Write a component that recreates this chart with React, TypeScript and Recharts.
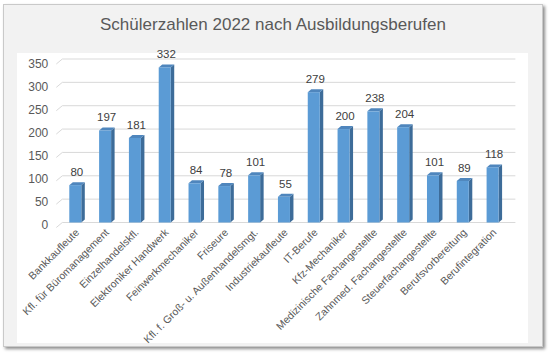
import { BarChart, Bar, XAxis, YAxis, CartesianGrid, LabelList } from "recharts";

const berufe = [
  "Bankkaufleute",
  "Kfl. für Büromanagement",
  "Einzelhandelskfl.",
  "Elektroniker Handwerk",
  "Feinwerkmechaniker",
  "Friseure",
  "Kfl. f. Groß- u. Außenhandelsmgt.",
  "Industriekaufleute",
  "IT-Berufe",
  "Kfz-Mechaniker",
  "Medizinische Fachangestellte",
  "Zahnmed. Fachangestellte",
  "Steuerfachangestellte",
  "Berufsvorbereitung",
  "Berufintegration",
];

const schueler = [80, 197, 181, 332, 84, 78, 101, 55, 279, 200, 238, 204, 101, 89, 118];

const yTicks = [0, 50, 100, 150, 200, 250, 300, 350];

const data = berufe.map((name, i) => ({ name, value: schueler[i] }));

const font = "'Liberation Sans', Arial, sans-serif";

// 3D-Säule: Vorderseite, rechte Seite, Deckel
const Bar3D = (props: any) => {
  const { x, y, width, height } = props;
  const d = 3.5;
  const dd = 3;
  return (
    <g>
      <polygon
        points={`${x + width},${y} ${x + width + d},${y - dd} ${x + width + d},${y + height - dd} ${x + width},${y + height}`}
        fill="#3d6c99"
      />
      <polygon
        points={`${x},${y} ${x + d},${y - dd} ${x + width + d},${y - dd} ${x + width},${y}`}
        fill="#4f86bd"
      />
      <rect x={x} y={y} width={width} height={height} fill="#5b9bd5" />
    </g>
  );
};

const GridLine = (props: any) => {
  const { x1, x2, y1 } = props;
  return (
    <path
      d={`M${x1 - 4},${y1 + 5} L${x1 + 2},${y1} L${x2 + 8},${y1}`}
      stroke="#d9d9d9"
      strokeWidth={1}
      fill="none"
    />
  );
};

const YTick = (props: any) => {
  const { x, y, payload } = props;
  const dy = 2 + (3 * payload.value) / 350;
  return (
    <text x={x} y={y + dy} textAnchor="end" dominantBaseline="central" fill="#595959" fontSize={12} fontFamily={font}>
      {payload.value}
    </text>
  );
};

const XTick = (props: any) => {
  const { x, y, payload } = props;
  return (
    <text
      transform={`translate(${x + 2},${y})rotate(-45)`}
      textAnchor="end"
      dy="0.35em"
      fill="#595959"
      fontSize={10.5}
      fontFamily={font}
    >
      {payload.value}
    </text>
  );
};

const ValueLabel = (props: any) => {
  const { x, y, width, value } = props;
  return (
    <text x={x + width / 2 + 1.5} y={y - 9} textAnchor="middle" fill="#404040" fontSize={11.5} fontFamily={font}>
      {value}
    </text>
  );
};

export default function App() {
  return (
    <div style={{ position: "absolute", left: 0, top: 0, width: 553, height: 363, background: "#fff", fontFamily: font }}>
      <div
        style={{
          position: "absolute",
          left: 3,
          top: 4,
          width: 540,
          height: 343,
          boxSizing: "border-box",
          background: "#f2f2f2",
          border: "1px solid #c9c9c9",
          boxShadow: "2px 2px 3px rgba(0,0,0,0.45)",
        }}
      />
      <div
        style={{
          position: "absolute",
          left: 3,
          width: 540,
          top: 15,
          textAlign: "center",
          fontSize: 17,
          color: "#595959",
          lineHeight: "20px",
        }}
      >
        Schülerzahlen 2022 nach Ausbildungsberufen
      </div>
      <div style={{ position: "absolute", left: 17, top: 53, width: 511, height: 290, background: "#fff" }} />
      <div style={{ position: "absolute", left: 17, top: 40, width: 511, height: 312 }}>
        <BarChart width={511} height={312} data={data} margin={{ top: 19, right: 20.6, bottom: 9, left: 0 }}>
          <CartesianGrid vertical={false} horizontal={GridLine} />
          <XAxis dataKey="name" interval={0} axisLine={false} tickLine={false} height={120.5} tick={XTick} />
          <YAxis
            domain={[0, 350]}
            ticks={yTicks}
            interval={0}
            axisLine={false}
            tickLine={false}
            width={43.3}
            tickMargin={6}
            tick={YTick}
          />
          <Bar dataKey="value" barSize={12} shape={Bar3D} isAnimationActive={false}>
            <LabelList dataKey="value" content={ValueLabel} />
          </Bar>
        </BarChart>
      </div>
    </div>
  );
}
